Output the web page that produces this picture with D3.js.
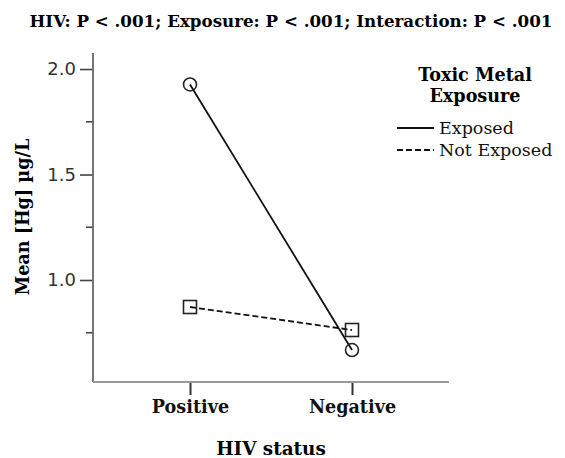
<!DOCTYPE html>
<html>
<head>
<meta charset="utf-8">
<script src="https://cdn.jsdelivr.net/npm/d3@7"></script>
<style>
  body { margin: 0; background: #fff; }
  text { font-family: "DejaVu Serif", serif; }
</style>
</head>
<body>
<div id="container"></div>
<script>
const categories = ["Positive", "Negative"]
const exposed = [1.927, 0.668]
const notExposed = [0.872, 0.763]
const yTicks = [2.0, 1.5, 1.0]
const yMinor = [1.75, 1.25, 0.75]
const seriesNames = ["Exposed", "Not Exposed"]

const width = 565, height = 458

const svg = d3.select("div#container").append("svg")
    .attr("width", width)
    .attr("height", height)

const x = d3.scalePoint()
    .domain(categories)
    .range([190, 352])

const y = d3.scaleLinear()
    .domain([0.526, 2.076])
    .range([380, 53])

// title
svg.append("text")
    .attr("x", 291)
    .attr("y", 27)
    .attr("text-anchor", "middle")
    .style("font-weight", "bold")
    .style("font-size", "16.7px")
    .text("HIV: P < .001; Exposure: P < .001; Interaction: P < .001")

// y axis
const yAxis = svg.append("g")
    .attr("transform", "translate(93,0)")
    .call(d3.axisLeft(y).tickValues(yTicks).tickSize(13).tickPadding(4).tickFormat(d3.format(".1f")))
yAxis.select(".domain").remove()
yAxis.selectAll(".tick line").attr("stroke", "#444").attr("stroke-width", 1.6)
yAxis.selectAll(".tick text")
    .style("font-family", "'DejaVu Sans', sans-serif")
    .style("font-size", "18px")
    .attr("fill", "#333")

svg.append("g")
    .selectAll("line")
    .data(yMinor)
    .join("line")
    .attr("x1", 86).attr("x2", 93)
    .attr("y1", d => y(d)).attr("y2", d => y(d))
    .attr("stroke", "#444").attr("stroke-width", 1.6)

svg.append("line")
    .attr("x1", 93).attr("x2", 93)
    .attr("y1", y.range()[1]).attr("y2", 382)
    .attr("stroke", "#666").attr("stroke-width", 1.8)

// x axis
const xAxis = svg.append("g")
    .attr("transform", "translate(0,382)")
    .call(d3.axisBottom(x).tickSize(13).tickPadding(6))
xAxis.select(".domain").remove()
xAxis.selectAll(".tick line").attr("stroke", "#333").attr("stroke-width", 2)
xAxis.selectAll(".tick text")
    .style("font-family", "'DejaVu Serif', serif")
    .style("font-weight", "bold")
    .style("font-size", "17.6px")
    .attr("fill", "#111")

svg.append("line")
    .attr("x1", 93).attr("x2", 449)
    .attr("y1", 382).attr("y2", 382)
    .attr("stroke", "#999").attr("stroke-width", 2)

// axis titles
svg.append("text")
    .attr("x", 271)
    .attr("y", 455)
    .attr("text-anchor", "middle")
    .style("font-weight", "bold")
    .style("font-size", "18.4px")
    .text("HIV status")

svg.append("text")
    .attr("transform", "translate(29,217) rotate(-90)")
    .attr("text-anchor", "middle")
    .style("font-weight", "bold")
    .style("font-size", "17.6px")
    .text("Mean [Hg] µg/L")

// lines
const line = d3.line()
    .x((d, i) => x(categories[i]))
    .y(d => y(d))

svg.append("path")
    .datum(exposed)
    .attr("d", line)
    .attr("fill", "none")
    .attr("stroke", "#111")
    .attr("stroke-width", 1.8)

svg.append("path")
    .datum(notExposed)
    .attr("d", line)
    .attr("fill", "none")
    .attr("stroke", "#111")
    .attr("stroke-width", 1.8)
    .attr("stroke-dasharray", "6,3")

// markers
svg.append("g")
    .selectAll("circle")
    .data(exposed)
    .join("circle")
    .attr("cx", (d, i) => x(categories[i]))
    .attr("cy", d => y(d))
    .attr("r", 6.5)
    .attr("fill", "none")
    .attr("stroke", "#222")
    .attr("stroke-width", 1.6)

svg.append("g")
    .selectAll("rect")
    .data(notExposed)
    .join("rect")
    .attr("x", (d, i) => x(categories[i]) - 6.5)
    .attr("y", d => y(d) - 6.5)
    .attr("width", 13)
    .attr("height", 13)
    .attr("fill", "none")
    .attr("stroke", "#222")
    .attr("stroke-width", 1.6)

// legend
const legend = svg.append("g")
legend.append("text")
    .attr("x", 475).attr("y", 81)
    .attr("text-anchor", "middle")
    .style("font-weight", "bold")
    .style("font-size", "17.6px")
    .text("Toxic Metal")
legend.append("text")
    .attr("x", 475).attr("y", 102)
    .attr("text-anchor", "middle")
    .style("font-weight", "bold")
    .style("font-size", "17.6px")
    .text("Exposure")

const legendY = d3.scalePoint().domain(seriesNames).range([128, 150])
const entries = legend.selectAll("g.entry")
    .data(seriesNames)
    .join("g")
    .attr("class", "entry")
    .attr("transform", d => `translate(0,${legendY(d)})`)
entries.append("line")
    .attr("x1", 397).attr("x2", 434)
    .attr("stroke", "#111")
    .attr("stroke-width", 1.8)
    .attr("stroke-dasharray", (d, i) => i ? "6,3" : null)
entries.append("text")
    .attr("x", 439).attr("y", 6)
    .style("font-size", "17.5px")
    .attr("fill", "#111")
    .text(d => d)
</script>
</body>
</html>
